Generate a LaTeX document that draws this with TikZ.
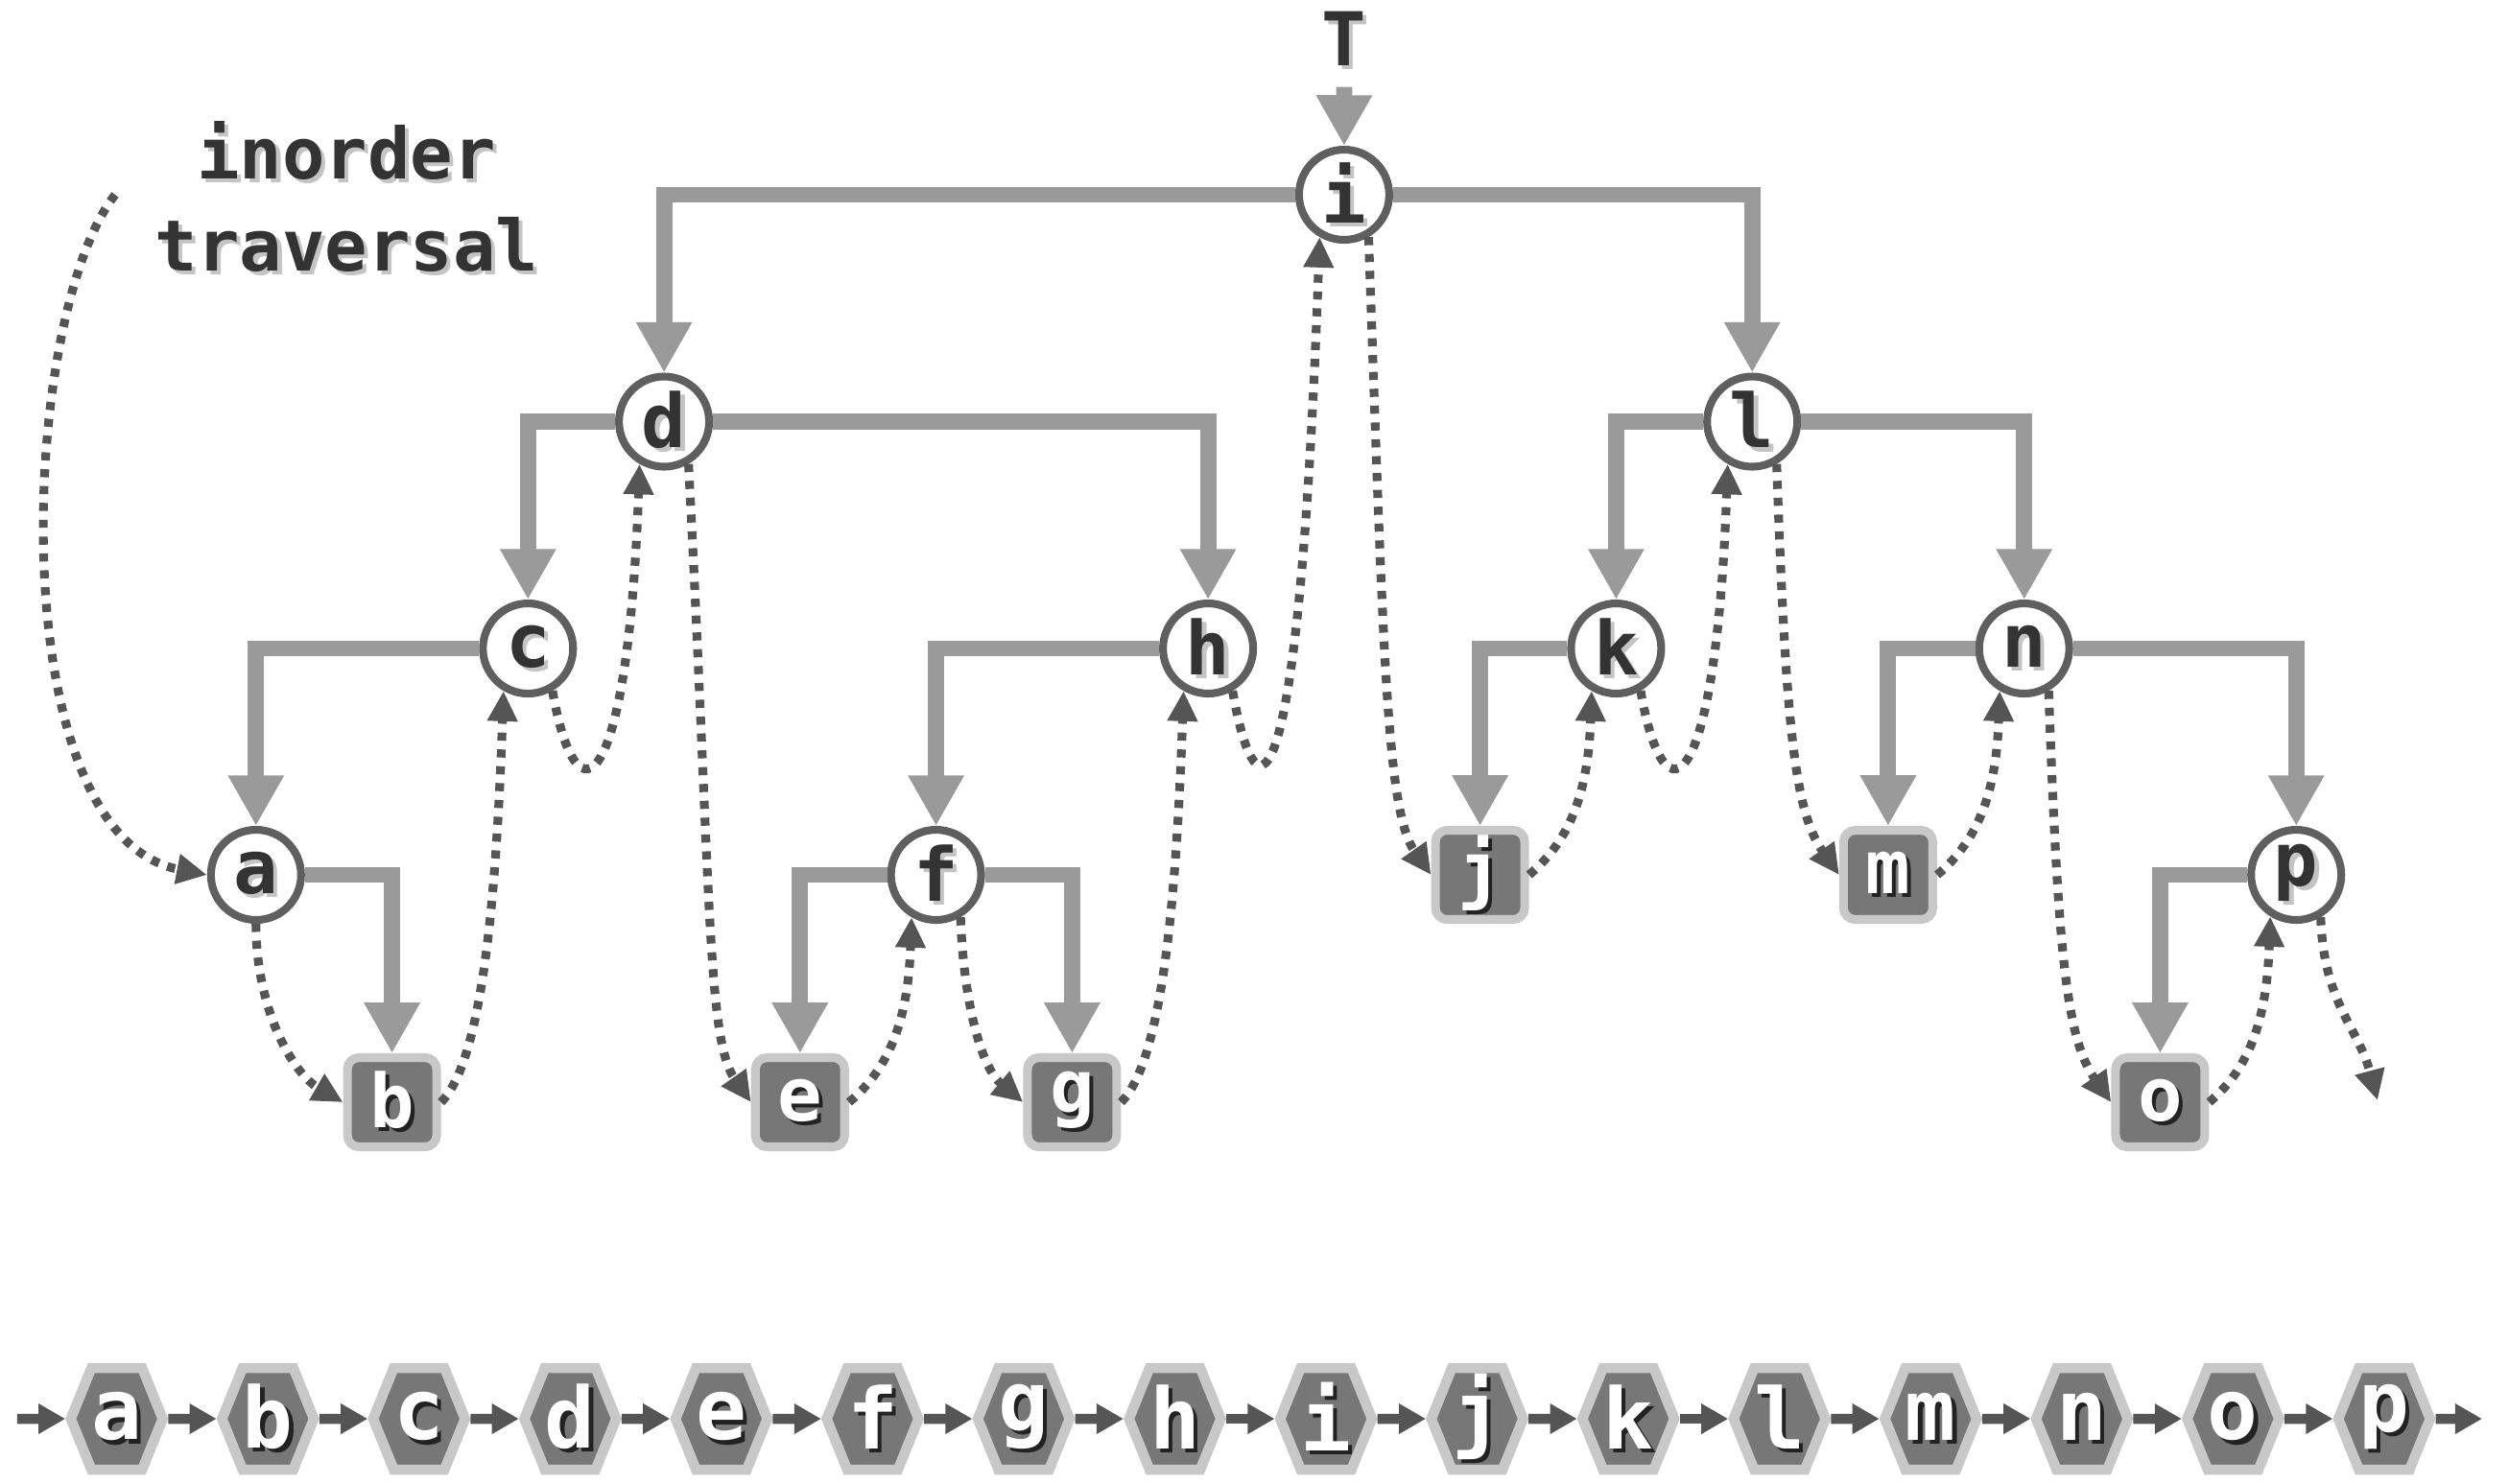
\documentclass[tikz,border=0pt]{standalone}
\usepackage{fontspec}
\setmonofont{DejaVu Sans Mono}
\usepackage{xcolor}
\usepackage{tikz}
\usetikzlibrary{arrows.meta, shapes.symbols, positioning}

\definecolor{edgegray}{HTML}{9A9A9A}
\definecolor{ringgray}{HTML}{5F5F5F}
\definecolor{dotgray}{HTML}{555555}
\definecolor{leaffill}{HTML}{777777}
\definecolor{leafrim}{HTML}{C8C8C8}
\definecolor{textdark}{HTML}{333333}
\definecolor{shadowlt}{HTML}{C4C4C4}
\definecolor{shadowdk}{HTML}{222222}

\newcommand{\letterfont}{\ttfamily\bfseries\fontsize{22pt}{26pt}\selectfont}
\newcommand{\listfont}{\ttfamily\bfseries\fontsize{25pt}{29pt}\selectfont}
\newcommand{\lightsh}[1]{\makebox[0pt][l]{\hspace{1.2pt}\raisebox{-1.2pt}{\textcolor{shadowlt}{#1}}}#1}
\newcommand{\darksh}[1]{\makebox[0pt][l]{\hspace{1.2pt}\raisebox{-1.2pt}{\textcolor{shadowdk}{#1}}}#1}

\tikzset{
  inner/.style={circle, draw=ringgray, line width=2.3pt, fill=white,
    minimum size=0.94cm, inner sep=0pt, text=textdark, font=\letterfont},
  leaf/.style={rectangle, rounded corners=0.12cm, draw=leafrim, fill=leaffill,
    line width=2.6pt, minimum size=0.93cm, inner sep=0pt, text=white, font=\letterfont},
  treeedge/.style={draw=edgegray, line width=4.8pt, -{Triangle[length=15pt,width=15.6pt]}},
  trav/.style={draw=dotgray, line width=2.6pt, dash pattern=on 2.4pt off 2.6pt,
    -{Triangle[length=9pt,width=8.5pt]}},
  listhex/.style={shape=signal, signal to=east and west, signal pointer angle=136,
    draw=leafrim, fill=leaffill, line width=3pt, minimum width=0.92cm,
    minimum height=1.06cm, inner sep=0pt, text=white, font=\listfont},
  listarrow/.style={draw=dotgray, line width=3pt, -{Triangle[length=8pt,width=8.5pt]}},
}

\begin{document}
\begin{tikzpicture}
\useasboundingbox (0,0) rectangle (26.15,-15.46);

% caption and root pointer
\node[align=center, text=textdark, font=\ttfamily\bfseries\fontsize{21pt}{27.5pt}\selectfont]
  (title) at (3.61,-2.07) {\lightsh{inorder}\\\lightsh{traversal}};
\node[inner sep=5pt, text=textdark, font=\letterfont] (T) at (14.01,-0.42) {\lightsh{T}};
\coordinate (tstart) at (1.20,-2.03);

% level 0 and 1
\node[inner] (i) at (14.009,-2.03) {\lightsh{i}};
\node[inner] (d) at (6.921,-4.395) {\lightsh{d}};
\node[inner] (l) at (18.262,-4.395) {\lightsh{l}};

% level 2
\node[inner] (c) at (5.503,-6.76) {\lightsh{c}};
\node[inner] (h) at (12.591,-6.76) {\lightsh{h}};
\node[inner] (k) at (16.844,-6.76) {\lightsh{k}};
\node[inner] (n) at (21.097,-6.76) {\lightsh{n}};

% level 3
\node[inner] (a) at (2.668,-9.12) {\lightsh{a}};
\node[inner] (f) at (9.756,-9.12) {\lightsh{f}};
\node[leaf]  (j) at (15.426,-9.12) {\darksh{j}};
\node[leaf]  (m) at (19.679,-9.12) {\darksh{m}};
\node[inner] (p) at (23.932,-9.12) {\lightsh{p}};

% level 4
\node[leaf] (b) at (4.086,-11.49) {\darksh{b}};
\node[leaf] (e) at (8.338,-11.49) {\darksh{e}};
\node[leaf] (g) at (11.174,-11.49) {\darksh{g}};
\node[leaf] (o) at (22.514,-11.49) {\darksh{o}};
\coordinate (pend) at (24.78,-11.47);

% tree edges
\draw[treeedge] (T) -- (i);
\draw[treeedge] (i.west) -| (d.north);
\draw[treeedge] (i.east) -| (l.north);
\draw[treeedge] (d.west) -| (c.north);
\draw[treeedge] (d.east) -| (h.north);
\draw[treeedge] (c.west) -| (a.north);
\draw[treeedge] (a.east) -| (b.north);
\draw[treeedge] (h.west) -| (f.north);
\draw[treeedge] (f.west) -| (e.north);
\draw[treeedge] (f.east) -| (g.north);
\draw[treeedge] (l.west) -| (k.north);
\draw[treeedge] (l.east) -| (n.north);
\draw[treeedge] (k.west) -| (j.north);
\draw[treeedge] (n.west) -| (m.north);
\draw[treeedge] (n.east) -| (p.north);
\draw[treeedge] (p.west) -| (o.north);

% traversal path
\draw[trav] (tstart) .. controls (0.2,-3.3) and (0.0,-8.7) .. (a.west);
\draw[trav] (a.south) .. controls +(-90:0.9) and +(150:0.6) .. (b.west);
\draw[trav] (b.east) .. controls +(45:0.6) and +(-92:2.2) .. (c.-120);
\draw[trav] (c.-60) .. controls +(-80:1.5) and +(-92:3.4) .. (d.-120);
\draw[trav] (d.-60) .. controls +(-87:4.5) and +(125:0.8) .. (e.west);
\draw[trav] (e.east) .. controls +(40:0.6) and +(-92:1.0) .. (f.-120);
\draw[trav] (f.-60) .. controls +(-88:0.8) and +(140:0.6) .. (g.west);
\draw[trav] (g.east) .. controls +(45:0.6) and +(-92:2.2) .. (h.-120);
\draw[trav] (h.-60) .. controls +(-80:1.5) and +(-92:6) .. (i.-120);
\draw[trav] (i.-60) .. controls +(-88:4.5) and +(125:0.8) .. (j.west);
\draw[trav] (j.east) .. controls +(40:0.6) and +(-92:1.0) .. (k.-120);
\draw[trav] (k.-60) .. controls +(-80:1.5) and +(-92:3.4) .. (l.-120);
\draw[trav] (l.-60) .. controls +(-88:2.8) and +(125:0.8) .. (m.west);
\draw[trav] (m.east) .. controls +(40:0.6) and +(-92:1.0) .. (n.-120);
\draw[trav] (n.-60) .. controls +(-88:2.8) and +(125:0.8) .. (o.west);
\draw[trav] (o.east) .. controls +(40:0.6) and +(-92:1.0) .. (p.-122);
\draw[trav] (p.-60) .. controls +(-88:0.9) and +(105:0.8) .. (pend);

% inorder sequence
\coordinate (lstart) at (0.18,-14.79);
\coordinate (lend) at (25.87,-14.79);
\foreach \ch [count=\k from 0] in {a,b,c,d,e,f,g,h,i,j,k,l,m,n,o,p}
  \node[listhex] (L\ch) at (1.217+1.5755*\k,-14.79) {\darksh{\ch}};
\draw[listarrow] (lstart) -- (La);
\foreach \x [remember=\x as \lastx (initially a)] in {b,c,d,e,f,g,h,i,j,k,l,m,n,o,p}
  \draw[listarrow] (L\lastx) -- (L\x);
\draw[listarrow] (Lp) -- (lend);
\end{tikzpicture}
\end{document}
